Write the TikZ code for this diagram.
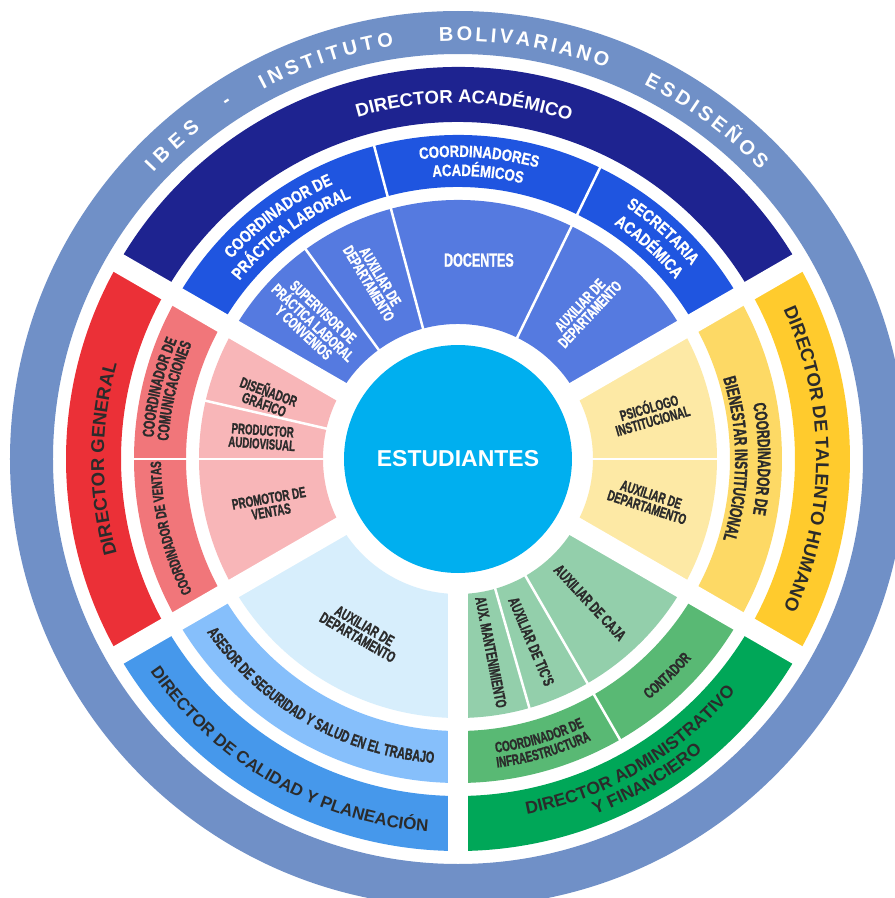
\documentclass[tikz,border=0pt]{standalone}
\usepackage{fontspec}
\setmainfont{Liberation Sans}
\newfontfamily\narrowA[FakeStretch=0.8,FakeBold=0.8]{Liberation Sans}
\newfontfamily\narrowB[FakeStretch=0.66,FakeBold=1.2]{Liberation Sans}
\usetikzlibrary{decorations.text}

\definecolor{anillo}{HTML}{7090C7}
\definecolor{academico}{HTML}{1E2390}
\definecolor{coordazul}{HTML}{1F55E0}
\definecolor{azulmedio}{HTML}{557AE0}
\definecolor{estud}{HTML}{00AFEF}
\definecolor{talento}{HTML}{FFCB2D}
\definecolor{bienestar}{HTML}{FDD965}
\definecolor{amarillo}{HTML}{FDE9A5}
\definecolor{admin}{HTML}{00A758}
\definecolor{verdemedio}{HTML}{59B974}
\definecolor{verdeclaro}{HTML}{93CFAB}
\definecolor{calidad}{HTML}{4698EB}
\definecolor{asesor}{HTML}{86BFFB}
\definecolor{celeste}{HTML}{D7EEFC}
\definecolor{general}{HTML}{EB3037}
\definecolor{rojomedio}{HTML}{F1767A}
\definecolor{rosa}{HTML}{F8B6B8}
\definecolor{tinta}{HTML}{2B2B2B}

% fonts: wide bold, and two condensed bolds
\newcommand{\fD}[2]{\bfseries\fontsize{#1}{#2}\selectfont}
\newcommand{\fA}[2]{\narrowA\bfseries\fontsize{#1}{#2}\selectfont}
\newcommand{\fB}[2]{\narrowB\bfseries\fontsize{#1}{#2}\selectfont}

% color, inner radius, outer radius, start angle, end angle
\newcommand{\ringpart}[5]{\fill[#1] (#4:#2) arc[start angle=#4,end angle=#5,radius=#2] -- (#5:#3) arc[start angle=#5,end angle=#4,radius=#3] -- cycle;}
% radius, middle angle, format, text (letters pointing outwards)
\newcommand{\arcout}[4]{\path[decorate,decoration={text along path,text align=center,text={|#3|#4}}] (#2+75:#1) arc[start angle=#2+75,end angle=#2-75,radius=#1];}
% radius, middle angle, format, text (letters pointing inwards)
\newcommand{\arcin}[4]{\path[decorate,decoration={text along path,text align=center,text={|#3|#4}}] (#2-75:#1) arc[start angle=#2-75,end angle=#2+75,radius=#1];}
% radius, start angle, end angle, text (spread over the arc)
\newcommand{\arcfit}[4]{\path[decorate,decoration={text along path,text align={fit to path},text={|\color{white}\fD{20}{20}|#4}}] (#2:#1) arc[start angle=#2,end angle=#3,radius=#1];}

\begin{document}
\begin{tikzpicture}[x=1pt,y=1pt,
	lbl/.style={align=center,inner sep=0pt},
	spoke/.style={white,line width=20pt},
	seam/.style={white,line width=2.5pt}]

	\fill[white] (-458,-439) rectangle (437,459);
	\useasboundingbox (-458,-439) rectangle (437,459);

	% outer ring
	\fill[anillo,even odd rule] (0,0) circle[radius=448] (0,0) circle[radius=405];

	% directors
	\ringpart{academico}{337}{392}{30}{150}
	\ringpart{general}{337}{392}{150}{210}
	\ringpart{calidad}{337}{392}{210}{270}
	\ringpart{admin}{337}{392}{270}{330}
	\ringpart{talento}{337}{392}{-30}{30}

	% coordinators
	\ringpart{coordazul}{272}{324}{30}{150}
	\ringpart{rojomedio}{272}{324}{150}{210}
	\ringpart{asesor}{272}{324}{210}{270}
	\ringpart{verdemedio}{272}{324}{270}{330}
	\ringpart{bienestar}{272}{324}{-30}{30}

	% staff
	\ringpart{azulmedio}{135}{259}{30}{150}
	\ringpart{rosa}{135}{259}{150}{210}
	\ringpart{celeste}{135}{259}{210}{270}
	\ringpart{verdeclaro}{135}{259}{270}{330}
	\ringpart{amarillo}{135}{259}{-30}{30}

	\foreach \a in {30,150,210,270,330}
		\draw[spoke] (\a:116) -- (\a:399);
	\foreach \a in {64,105,180,-60}
		\draw[seam] (\a:270) -- (\a:326);
	\foreach \a in {64,105,126,167,180,0,-60,-74}
		\draw[seam] (\a:133) -- (\a:261);

	\node[circle,fill=estud,minimum size=228pt,inner sep=0pt,text=white,font=\fD{23}{23}] (estudiantes) at (0,0) {ESTUDIANTES};

	% title
	\arcfit{418}{136.8}{128.0}{IBES}
	\node[text=white,font=\fD{20}{20},rotate=32.9] (guion) at (122.9:424) {-};
	\arcfit{418}{117.8}{98.8}{INSTITUTO}
	\arcfit{418}{92.6}{69.2}{BOLIVARIANO}
	\arcfit{418}{63.6}{43.7}{ESDISEÑOS}

	% director labels
	\arcout{356}{89}{\color{white}\fD{18.5}{18.5}}{DIRECTOR ACADÉMICO}
	\arcout{354}{180}{\color{tinta}\fD{18.5}{18.5}}{DIRECTOR GENERAL}
	\arcout{358}{0}{\color{tinta}\fD{18.5}{18.5}}{DIRECTOR DE TALENTO HUMANO}
	\arcin{374}{-120}{\color{tinta}\fD{17}{17}}{DIRECTOR DE CALIDAD Y PLANEACIÓN}
	\arcin{362}{-59.5}{\color{tinta}\fD{17.5}{17.5}}{DIRECTOR ADMINISTRATIVO}
	\arcin{381}{-59.5}{\color{tinta}\fD{17.5}{17.5}}{Y FINANCIERO}

	% coordinator labels
	\arcout{302}{126.5}{\color{white}\fA{17}{17}}{COORDINADOR DE}
	\arcout{282}{126.5}{\color{white}\fA{17}{17}}{PRÁCTICA LABORAL}
	\arcout{302}{86}{\color{white}\fA{16.5}{16.5}}{COORDINADORES}
	\arcout{283}{86}{\color{white}\fA{16.5}{16.5}}{ACADÉMICOS}
	\arcout{303}{48}{\color{white}\fA{17}{17}}{SECRETARIA}
	\arcout{282}{48}{\color{white}\fA{17}{17}}{ACADÉMICA}
	\arcout{300}{0}{\color{tinta}\fB{18}{18}}{COORDINADOR DE}
	\arcout{277}{0}{\color{tinta}\fB{18}{18}}{BIENESTAR INSTITUCIONAL}
	\arcout{305}{166.5}{\color{tinta}\fB{16.3}{16.3}}{COORDINADOR DE}
	\arcout{290}{166.5}{\color{tinta}\fB{16.3}{16.3}}{COMUNICACIONES}
	\arcout{297}{193.5}{\color{tinta}\fB{15}{15}}{COORDINADOR DE VENTAS}
	\arcin{305}{-120}{\color{tinta}\fB{16.3}{16.3}}{ASESOR DE SEGURIDAD Y SALUD EN EL TRABAJO}
	\arcin{296}{-73.7}{\color{tinta}\fB{15}{15}}{COORDINADOR DE}
	\arcin{311}{-73.7}{\color{tinta}\fB{15}{15}}{INFRAESTRUCTURA}
	\arcin{307}{-46}{\color{tinta}\fB{15.5}{15.5}}{CONTADOR}

	% staff labels
	\node[lbl,text=white,font=\fB{15.5}{13.5},rotate=-43] (supervisor) at (136.6:199) {SUPERVISOR DE\\PRÁCTICA LABORAL\\Y CONVENIOS};
	\node[lbl,text=white,font=\fB{15.5}{13.5},rotate=-59] (auxacad) at (115:197.5) {AUXILIAR DE\\DEPARTAMENTO};
	\node[lbl,text=white,font=\fB{19}{19}] (docentes) at (84:200) {DOCENTES};
	\node[lbl,text=white,font=\fB{15.5}{13.5},rotate=47] (auxsecre) at (49.6:196) {AUXILIAR DE\\DEPARTAMENTO};
	\node[lbl,text=tinta,font=\fB{15}{13.5},rotate=16] (psicologo) at (13.4:198) {PSICÓLOGO\\INSTITUCIONAL};
	\node[lbl,text=tinta,font=\fB{15}{13.5},rotate=-18] (auxbien) at (-12.4:195.6) {AUXILIAR DE\\DEPARTAMENTO};
	\node[lbl,text=tinta,font=\fB{15.7}{15.7},rotate=-47] (caja) at (-47.4:195) {AUXILIAR DE CAJA};
	\node[lbl,text=tinta,font=\fB{15.6}{15.6},rotate=-67] (tics) at (-68.1:196.7) {AUXILIAR DE TIC'S};
	\node[lbl,text=tinta,font=\fB{15.4}{15.4},rotate=-79] (mant) at (-80.3:196) {AUX. MANTENIMIENTO};
	\node[lbl,text=tinta,font=\fB{15.5}{13.5},rotate=-30] (auxcalidad) at (-119.3:198) {AUXILIAR DE\\DEPARTAMENTO};
	\node[lbl,text=tinta,font=\fB{15}{13.5},rotate=10] (promotor) at (193.7:193.5) {PROMOTOR DE\\VENTAS};
	\node[lbl,text=tinta,font=\fB{14.7}{13.5},rotate=-4] (productor) at (173.6:197) {PRODUCTOR\\AUDIOVISUAL};
	\node[lbl,text=tinta,font=\fB{15}{13.5},rotate=-20] (disenador) at (162:201) {DISEÑADOR\\GRÁFICO};

\end{tikzpicture}
\end{document}
